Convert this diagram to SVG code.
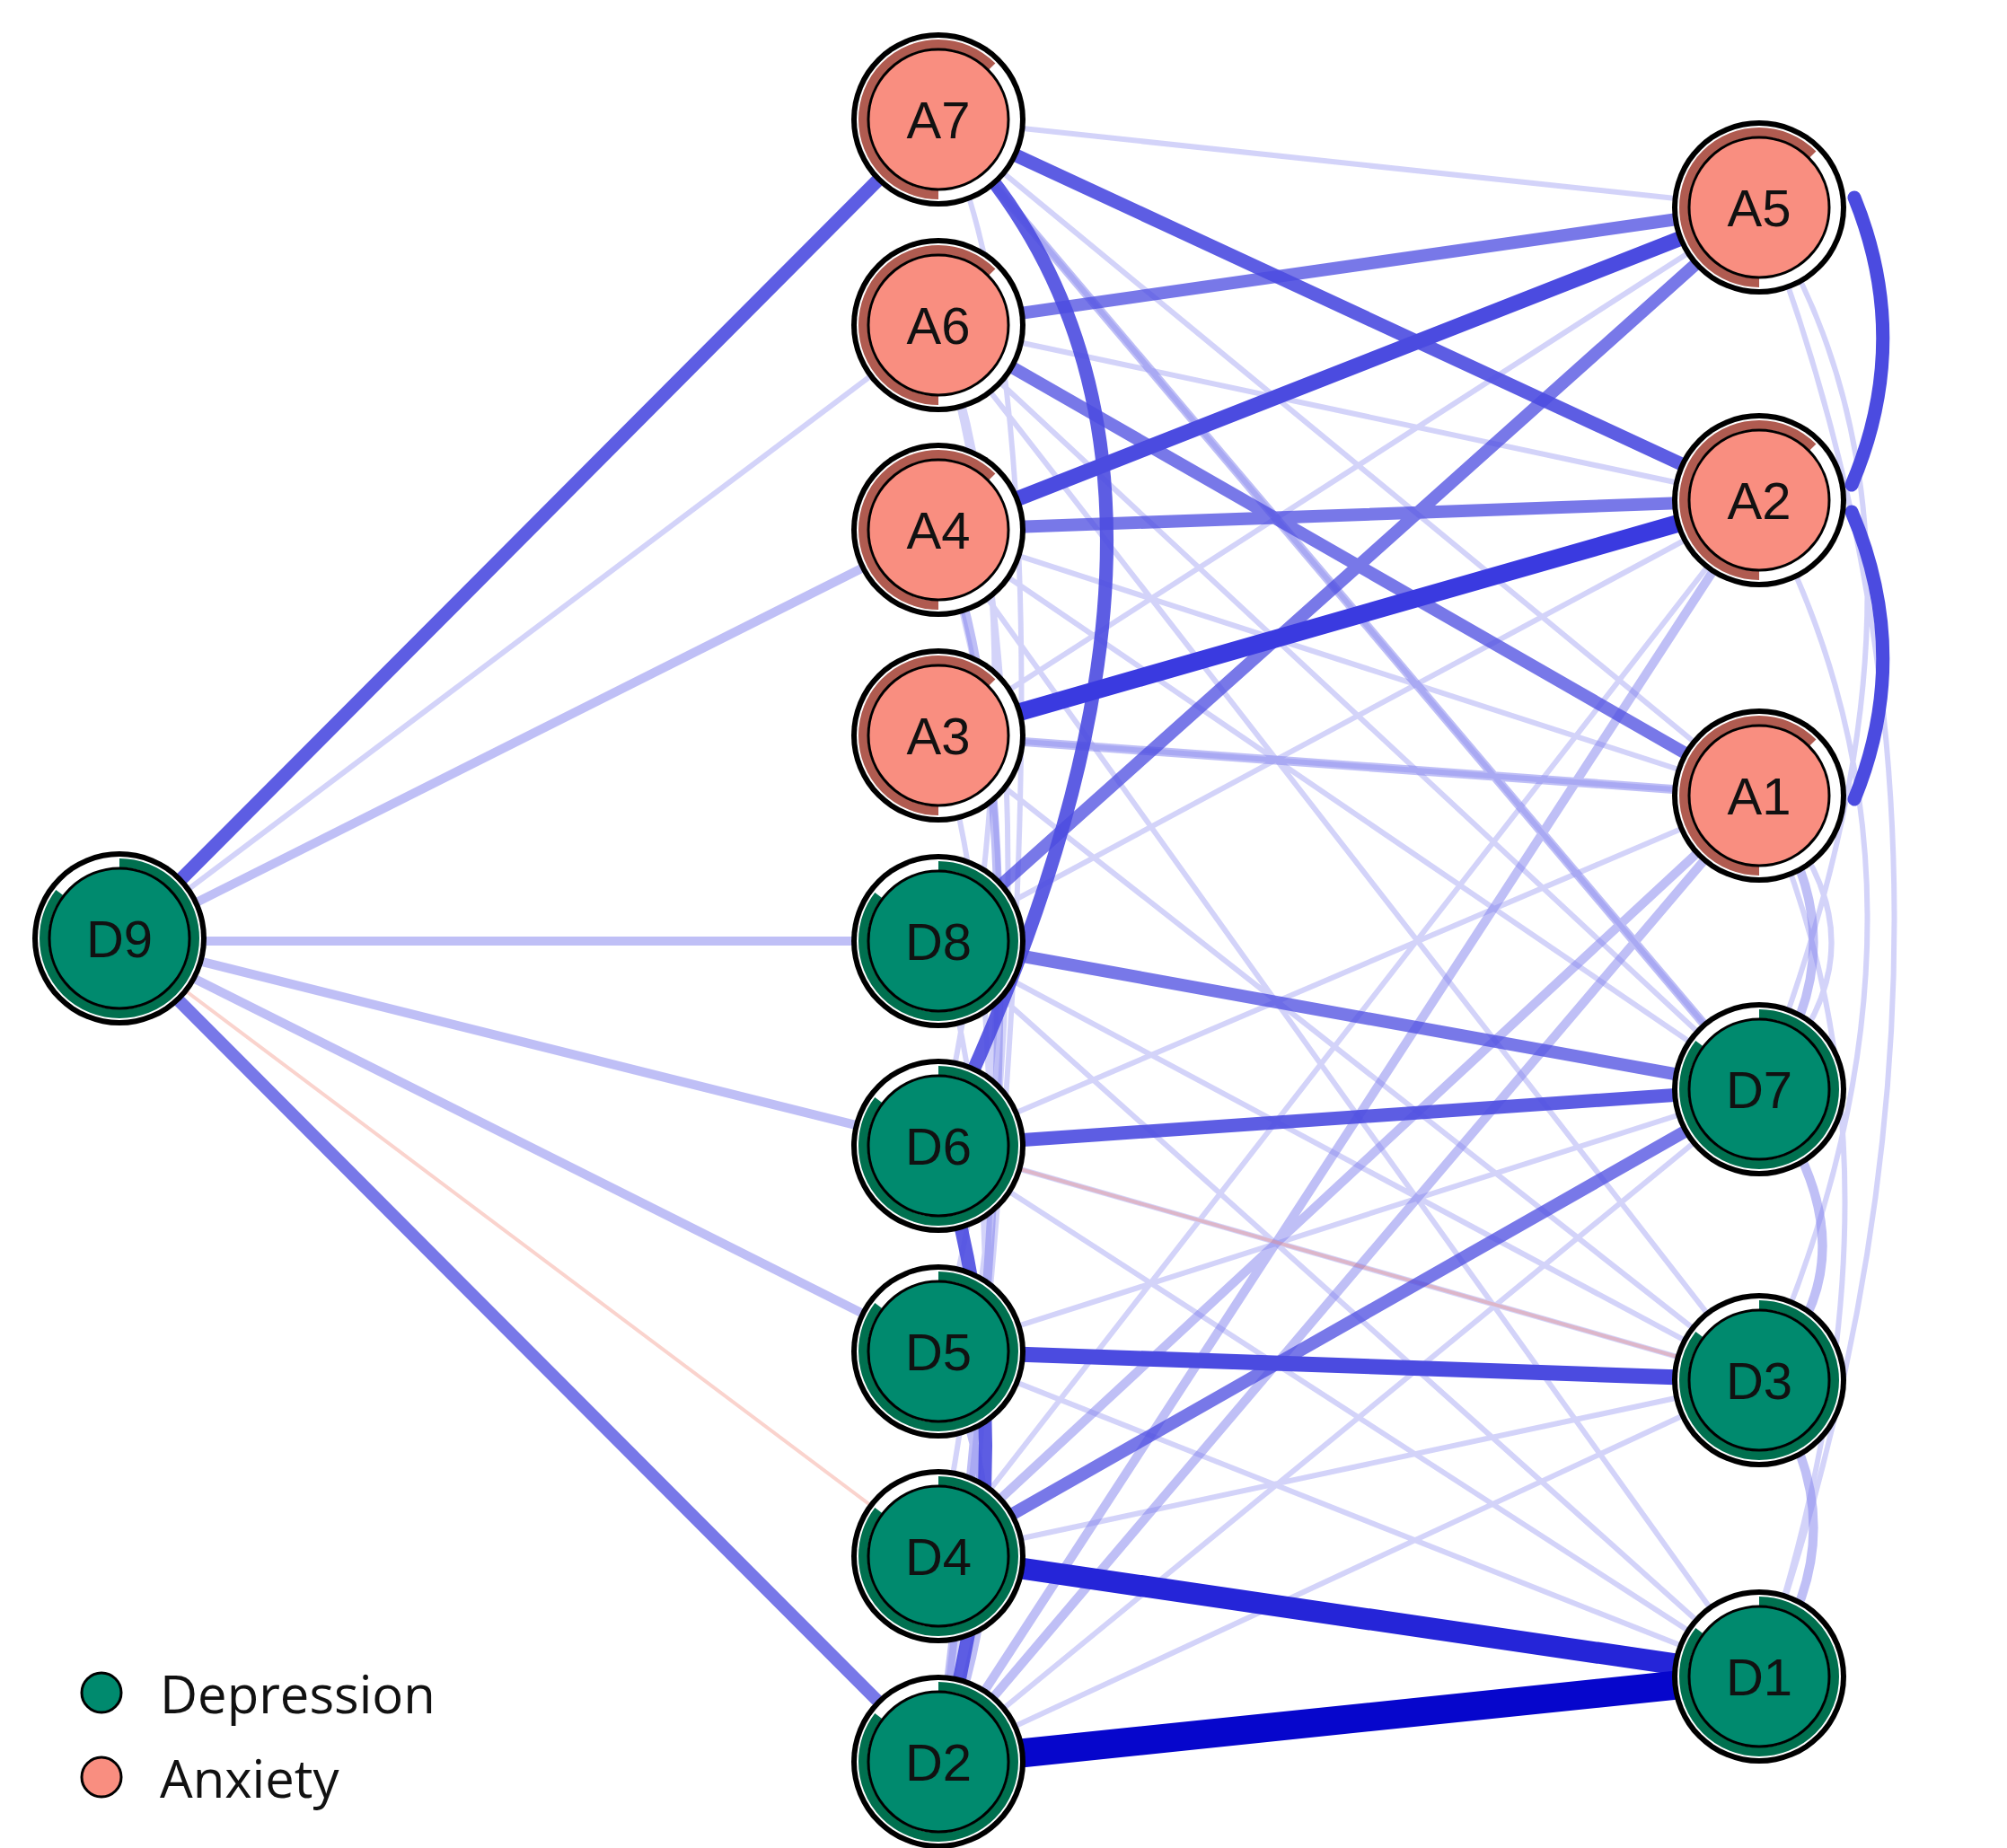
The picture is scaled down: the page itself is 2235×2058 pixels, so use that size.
<svg xmlns="http://www.w3.org/2000/svg" width="2235" height="2058" viewBox="0 0 2235 2058">
<style>
.e{fill:none;stroke:#4b4be0;stroke-linecap:round}
.f{fill:none;stroke:#8080ee;stroke-linecap:round;opacity:.35}
.r{fill:none;stroke:#f08070;opacity:.35}
.lab{font-family:"Liberation Sans",Arial,sans-serif;font-size:58px;text-anchor:middle;dominant-baseline:central;fill:#111}
.leg{font-family:"Open Sans","Liberation Sans",sans-serif;font-size:58px;fill:#111;dominant-baseline:central}
</style>
<defs>
<g id="dep"><circle r="97" fill="#000"/><circle r="91" fill="#fff"/><circle r="84" fill="none" stroke="#00704f" stroke-width="10" stroke-dasharray="450 78" transform="rotate(-90)"/><circle r="78" fill="#008a6e" stroke="#000" stroke-width="3"/></g>
<g id="anx"><circle r="97" fill="#000"/><circle r="91" fill="#fff"/><circle r="84" fill="none" stroke="#b05b50" stroke-width="10" stroke-dasharray="330 198" transform="rotate(90)"/><circle r="78" fill="#f98e80" stroke="#000" stroke-width="3"/></g>
</defs>
<rect width="2235" height="2058" fill="#fff"/>
<g id="edges">
<path class="f" stroke-width="6" d="M1045 133L1959 231M1045 133L1959 886M1045 133L1959 1213M1045 362L1959 557M1045 362L1959 1213M1045 362L1959 1537M1045 590L1959 886M1045 590L1959 1213M1045 590L1959 1867M1045 819L1959 231M1045 819L1959 886M1045 819L1959 1537M1045 1048L1959 557M1045 1048L1959 1537M1045 1048L1959 1867M1045 1276L1959 886M1045 1276L1959 1537M1045 1276L1959 1867M1045 1505L1959 1213M1045 1505L1959 1867M1045 1733L1959 557M1045 1733L1959 1537M1045 1962L1959 1537M1045 1962L1959 1213M1045 133Q1230 500 1045 1962M1045 362Q1200 900 1045 1733M1045 590Q1180 1000 1045 1505M1045 819Q1160 1200 1045 1962M1045 1048Q1150 1400 1045 1962M1045 362Q1170 700 1045 1276M1959 231Q2260 1000 1959 1867M1959 557Q2200 1000 1959 1537M1959 886Q2120 1050 1959 1213M1959 231Q2200 600 1959 1213M1959 886Q2150 1300 1959 1867M133 1048L1045 362"/>
<path class="f" stroke-width="10" style="opacity:.5" d="M133 1048L1045 590M133 1048L1045 1048M133 1048L1045 1276M133 1048L1045 1505M1045 819L1959 886M1045 1962L1959 557M1045 1962L1959 886M1045 1733L1959 886M1045 133L1959 1213M1045 1505Q1150 1700 1045 1962M1959 1213Q2100 1400 1959 1537M1959 1537Q2080 1700 1959 1867M1959 886Q2080 1050 1959 1213M1045 590Q1180 900 1045 1962"/>
<path class="r" stroke-width="4" d="M133 1048L1045 1733M1045 1276L1959 1537"/>
<path class="e" stroke-width="14" style="opacity:.75" d="M1045 1048L1959 231M1045 362L1959 886M1045 1048L1959 1213M1045 590L1959 557M1045 1733L1959 1213M133 1048L1045 1962M1045 362L1959 231"/>
<path class="e" stroke-width="15" style="opacity:.9" d="M133 1048L1045 133M1045 133L1959 557M1045 1276L1959 1213M1045 1276Q1420 500 1045 133M1045 1276Q1150 1600 1045 1962"/>
<path class="e" stroke-width="17" d="M1045 590L1959 231M1045 1505L1959 1537"/>
<path class="e" stroke-width="15" d="M2065 220Q2130 380 2062 540M2062 570Q2130 730 2065 890"/>
<path class="e" stroke-width="20" style="stroke:#3a3ae0" d="M1045 819L1959 557"/>
<path class="e" stroke-width="24" style="stroke:#2525d8" d="M1045 1733L1959 1867"/>
<path class="e" stroke-width="32" style="stroke:#0606cc" d="M1045 1962L1959 1867"/>
</g>
<g id="D9"><use href="#dep" x="133" y="1045"/><text class="lab" x="133" y="1045">D9</text></g>
<g id="A7"><use href="#anx" x="1045" y="133"/><text class="lab" x="1045" y="133">A7</text></g>
<g id="A6"><use href="#anx" x="1045" y="362"/><text class="lab" x="1045" y="362">A6</text></g>
<g id="A4"><use href="#anx" x="1045" y="590"/><text class="lab" x="1045" y="590">A4</text></g>
<g id="A3"><use href="#anx" x="1045" y="819"/><text class="lab" x="1045" y="819">A3</text></g>
<g id="D8"><use href="#dep" x="1045" y="1048"/><text class="lab" x="1045" y="1048">D8</text></g>
<g id="D6"><use href="#dep" x="1045" y="1276"/><text class="lab" x="1045" y="1276">D6</text></g>
<g id="D5"><use href="#dep" x="1045" y="1505"/><text class="lab" x="1045" y="1505">D5</text></g>
<g id="D4"><use href="#dep" x="1045" y="1733"/><text class="lab" x="1045" y="1733">D4</text></g>
<g id="D2"><use href="#dep" x="1045" y="1962"/><text class="lab" x="1045" y="1962">D2</text></g>
<g id="A5"><use href="#anx" x="1959" y="231"/><text class="lab" x="1959" y="231">A5</text></g>
<g id="A2"><use href="#anx" x="1959" y="557"/><text class="lab" x="1959" y="557">A2</text></g>
<g id="A1"><use href="#anx" x="1959" y="886"/><text class="lab" x="1959" y="886">A1</text></g>
<g id="D7"><use href="#dep" x="1959" y="1213"/><text class="lab" x="1959" y="1213">D7</text></g>
<g id="D3"><use href="#dep" x="1959" y="1537"/><text class="lab" x="1959" y="1537">D3</text></g>
<g id="D1"><use href="#dep" x="1959" y="1867"/><text class="lab" x="1959" y="1867">D1</text></g>
<g id="legend">
<circle cx="113" cy="1885" r="22" fill="#008a6e" stroke="#000" stroke-width="3"/>
<circle cx="113" cy="1979" r="22" fill="#f98e80" stroke="#000" stroke-width="3"/>
<text class="leg" x="178" y="1885">Depression</text>
<text class="leg" x="178" y="1979">Anxiety</text>
</g>
</svg>
